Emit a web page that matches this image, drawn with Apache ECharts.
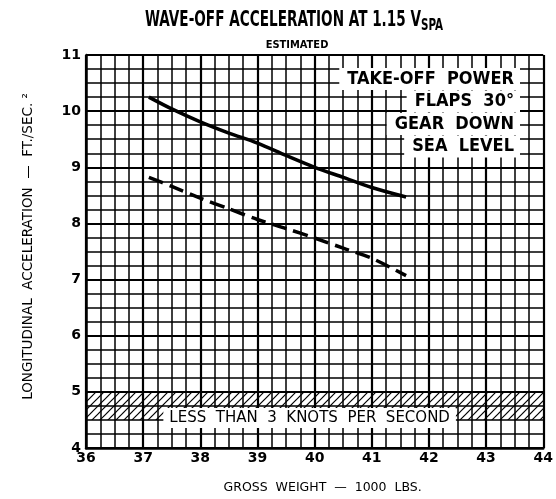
<!DOCTYPE html>
<html>
<head>
<meta charset="utf-8">
<script src="https://cdn.jsdelivr.net/npm/echarts@6/dist/echarts.min.js"></script>
<style>html,body{margin:0;padding:0;background:#fff}#c{width:556px;height:499px}</style>
</head>
<body>
<div id="c"></div>
<script>
// ---- data ----
var xTickValues = [36, 37, 38, 39, 40, 41, 42, 43, 44];
var yTickValues = [4, 5, 6, 7, 8, 9, 10, 11];
var grossWeight = [37.1, 37.5, 38.0, 38.5, 39.0, 39.5, 40.0, 40.5, 41.0, 41.6];
var accelSolid  = [10.25, 10.04, 9.81, 9.61, 9.43, 9.21, 9.0, 8.82, 8.64, 8.47];
var accelDashed = [8.82, 8.66, 8.45, 8.26, 8.07, 7.91, 7.74, 7.56, 7.38, 7.07];
var bandLow = 4.5, bandHigh = 5.0;
var bandText = 'LESS  THAN  3  KNOTS  PER  SECOND';
var noteLines = ['TAKE-OFF  POWER', 'FLAPS  30\u00B0', 'GEAR  DOWN', 'SEA  LEVEL'];
var titleMain = 'WAVE-OFF ACCELERATION AT 1.15 V';
var titleSub = 'SPA';
var subTitle = 'ESTIMATED';
var xName = 'GROSS  WEIGHT  \u2014  1000  LBS.';
var yName = 'LONGITUDINAL  ACCELERATION  \u2014  FT./SEC. \u00B2';

function pairs(xs, ys) { return xs.map(function (x, i) { return [x, ys[i]]; }); }

// hatch pattern (transparent background so the grid shows through)
var pat = document.createElement('canvas');
pat.width = 8; pat.height = 8;
var pc = pat.getContext('2d');
pc.strokeStyle = '#000'; pc.lineWidth = 1.2;
pc.beginPath(); pc.moveTo(-1, 9); pc.lineTo(9, -1); pc.stroke();
pc.beginPath(); pc.moveTo(7, 9); pc.lineTo(9, 7); pc.stroke();
pc.beginPath(); pc.moveTo(-1, 1); pc.lineTo(1, -1); pc.stroke();

var FONT = 'DejaVu Sans Condensed';
var chart = echarts.init(document.getElementById('c'), null, {renderer: 'canvas'});
var graphics = noteLines.map(function (t, i) {
  return {
    type: 'text', right: 36, top: 68 + i * 22.5, z: 100,
    style: {
      text: t, fill: '#000', font: 'bold 18px "' + FONT + '"',
      backgroundColor: '#fff', padding: [2, 6, 2, 8]
    }
  };
});
graphics.push({
  type: 'text', x: 294, y: 8, scaleX: 0.72, z: 100,
  style: {
    text: '{a|' + titleMain + '}{s|' + titleSub + '}',
    align: 'center', verticalAlign: 'top',
    rich: {
      a: {fontFamily: FONT, fontWeight: 'bold', fontSize: 21, fill: '#000', color: '#000'},
      s: {fontFamily: FONT, fontWeight: 'bold', fontSize: 16, fill: '#000', color: '#000', padding: [10, 0, 0, 0]}
    }
  }
});
graphics.push({
  type: 'text', x: 297, y: 40, z: 100,
  style: {
    text: subTitle, align: 'center', verticalAlign: 'top',
    font: 'bold 11px "' + FONT + '"', fill: '#000'
  }
});
chart.setOption({
  animation: false,
  backgroundColor: '#fff',
  grid: {left: 86, right: 10, top: 55, bottom: 51, containLabel: false},
  xAxis: {
    type: 'value', min: xTickValues[0], max: xTickValues[xTickValues.length - 1], interval: 1,
    name: xName, nameLocation: 'middle', nameGap: 33,
    nameTextStyle: {fontFamily: 'DejaVu Sans', fontSize: 12.5, color: '#000', padding: [0, 0, 0, 16]},
    axisLine: {show: true, lineStyle: {color: '#000', width: 2.5}},
    axisTick: {show: false},
    axisLabel: {margin: 3, color: '#000', fontFamily: 'DejaVu Sans', fontSize: 14, fontWeight: 'bold'},
    splitLine: {show: true, lineStyle: {color: '#000', width: 2.2}},
    minorTick: {show: false, splitNumber: 4},
    minorSplitLine: {show: true, lineStyle: {color: '#000', width: 1.5}}
  },
  yAxis: {
    type: 'value', min: yTickValues[0], max: yTickValues[yTickValues.length - 1], interval: 1,
    name: yName, nameLocation: 'middle', nameGap: 51, nameRotate: 90,
    nameTextStyle: {fontFamily: 'DejaVu Sans', fontSize: 13.5, color: '#000', padding: [0, 0, 0, 10]},
    axisLine: {show: true, lineStyle: {color: '#000', width: 2.5}},
    axisTick: {show: false},
    axisLabel: {margin: 5, color: '#000', fontFamily: 'DejaVu Sans', fontSize: 14, fontWeight: 'bold'},
    splitLine: {show: true, lineStyle: {color: '#000', width: 2.2}},
    minorTick: {show: false, splitNumber: 4},
    minorSplitLine: {show: true, lineStyle: {color: '#000', width: 1.5}}
  },
  graphic: graphics,
  series: [{
    type: 'line', data: pairs(grossWeight, accelSolid), smooth: 0.3, showSymbol: false,
    lineStyle: {color: '#000', width: 3.5}, z: 5,
    markArea: {
      silent: true, z: 1,
      itemStyle: {color: {image: pat, repeat: 'repeat'}, opacity: 1},
      label: {
        show: true, position: 'inside', offset: [-5, 12], color: '#000',
        fontFamily: 'DejaVu Sans', fontSize: 15, backgroundColor: '#fff', padding: [3, 6, 2, 6],
        formatter: bandText
      },
      data: [[{yAxis: bandLow}, {yAxis: bandHigh}]]
    }
  }, {
    type: 'line', data: pairs(grossWeight, accelDashed), smooth: 0.3, showSymbol: false,
    lineStyle: {color: '#000', width: 3.5, type: [15, 7]}, z: 5
  }]
});
</script>
</body>
</html>
